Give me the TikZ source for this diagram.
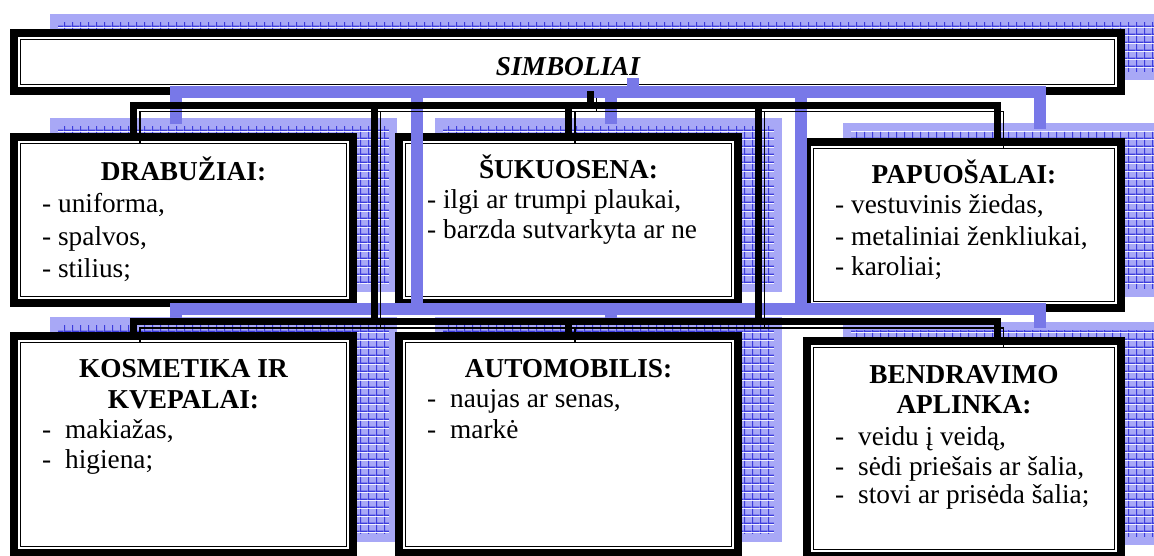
\documentclass[tikz,border=0pt]{standalone}
\usepackage{fontspec}
\setmainfont{Liberation Serif}
\usetikzlibrary{calc, patterns.meta}
\definecolor{shadowblue}{RGB}{120,120,232}
\definecolor{shadowlight}{RGB}{168,168,246}
\definecolor{shadowline}{RGB}{60,60,220}
\tikzdeclarepattern{
  name=bluehatch, type=colored,
  bottom left={(0pt,0pt)}, top right={(8pt,8pt)}, tile size={(8pt,8pt)},
  code={
    \fill[shadowlight] (0pt,0pt) rectangle (8pt,8pt);
    \fill[shadowline] (0pt,0pt) rectangle (8pt,1.4pt);
    \fill[shadowline] (0pt,0pt) rectangle (1.4pt,8pt);
  }
}
\tikzset{
  box/.style={draw, line width=8pt, fill=white, inner sep=0pt, outer sep=0pt,
    preaction={draw=shadowlight, pattern=bluehatch, line width=8pt,
      transform canvas={shift={(40,-15)}}}},
  frame/.style={line width=1.3pt},
  head/.style={font=\fontsize{27.3}{33}\selectfont\bfseries, anchor=base, inner sep=0pt},
  item/.style={font=\fontsize{27.3}{33}\selectfont, anchor=base west, inner sep=0pt},
  wire/.style={line width=7pt,
    postaction={draw, line width=1.5pt, transform canvas={shift={(6.5,6.5)}}}},
  wireshadow/.style={draw=shadowblue, line width=12pt,
    transform canvas={shift={(42.5,-13)}}}
}
\newcommand{\tabdash}{\makebox[23pt][l]{-}}
% all connectors, drawn once for the shadow and once for the line
\newcommand{\wiring}[1]{%
  \draw[#1] (title.south -| j0) -- (j0);
  \draw[#1] (drab.north -| j1) -- (j1) -- (j2) -- (papuo.north -| j2);
  \draw[#1] (j1 -| suk.north) -- (suk.north);
  \draw[#1] (j3) -- (j3 |- k1);
  \draw[#1] (j4) -- (j4 |- k1);
  \draw[#1] (kosm.north -| k1) -- (k1) -- (k2) -- (bend.north -| k2);
  \draw[#1] (k1 -| autom.north) -- (autom.north);
}

\begin{document}
\begin{tikzpicture}[x=1pt, y=-1pt]
        \useasboundingbox (0,0) rectangle (1154,555);

        % Blokai
        \node[box, minimum width=1107pt, minimum height=58pt] (title) at (567.5,62) {};
        \node[box, minimum width=339pt, minimum height=166pt] (drab) at (183.5,220) {};
        \node[box, minimum width=339pt, minimum height=166pt] (suk) at (568.5,220) {};
        \node[box, minimum width=314pt, minimum height=166pt] (papuo) at (964,225) {};
        \node[box, minimum width=339pt, minimum height=217pt] (kosm) at (183.5,444.5) {};
        \node[box, minimum width=339pt, minimum height=217pt] (autom) at (568.5,444.5) {};
        \node[box, minimum width=314pt, minimum height=215pt] (bend) at (964,448.5) {};

        \foreach \n in {title,drab,suk,papuo,kosm,autom,bend}
          \draw[frame] ($(\n.north west)+(6.5,6.5)$) rectangle ($(\n.south east)+(-6.5,-6.5)$);

        % Jungtys
        \coordinate (j0) at (590,105);
        \coordinate (j1) at (133.5,105);
        \coordinate (j2) at (997,105);
        \coordinate (j3) at (374,105);
        \coordinate (j4) at (758,105);
        \coordinate (k1) at (133.5,321.5);
        \coordinate (k2) at (997,321.5);

        \wiring{wireshadow}
        \wiring{wire}

        % Tekstai
        \node[head, font=\fontsize{27.3}{33}\selectfont\bfseries\itshape] (title-t) at (568,75) {SIMBOLIAI};

        \node[head] (drab-t) at (183.5,180) {DRABUŽIAI:};
        \node[item] (drab-1) at (42,212) {- uniforma,};
        \node[item] (drab-2) at (42,245) {- spalvos,};
        \node[item] (drab-3) at (42,277) {- stilius;};

        \node[head] (suk-t) at (568.5,178) {ŠUKUOSENA:};
        \node[item] (suk-1) at (427,208) {- ilgi ar trumpi plaukai,};
        \node[item] (suk-2) at (427,238) {- barzda sutvarkyta ar ne};

        \node[head] (papuo-t) at (964,183) {PAPUOŠALAI:};
        \node[item] (papuo-1) at (835,213) {- vestuvinis žiedas,};
        \node[item] (papuo-2) at (835,245) {- metaliniai ženkliukai,};
        \node[item] (papuo-3) at (835,275) {- karoliai;};

        \node[head] (kosm-t1) at (183.5,377) {KOSMETIKA IR};
        \node[head] (kosm-t2) at (183.5,408) {KVEPALAI:};
        \node[item] (kosm-1) at (42,438) {\tabdash makiažas,};
        \node[item] (kosm-2) at (42,468) {\tabdash higiena;};

        \node[head] (autom-t) at (568.5,377) {AUTOMOBILIS:};
        \node[item] (autom-1) at (427,407) {\tabdash naujas ar senas,};
        \node[item] (autom-2) at (427,438) {\tabdash markė};

        \node[head] (bend-t1) at (964,383) {BENDRAVIMO};
        \node[head] (bend-t2) at (964,413) {APLINKA:};
        \node[item] (bend-1) at (835,445) {\tabdash veidu į veidą,};
        \node[item] (bend-2) at (835,475) {\tabdash sėdi priešais ar šalia,};
        \node[item] (bend-3) at (835,503) {\tabdash stovi ar prisėda šalia;};
    \end{tikzpicture}
\end{document}
